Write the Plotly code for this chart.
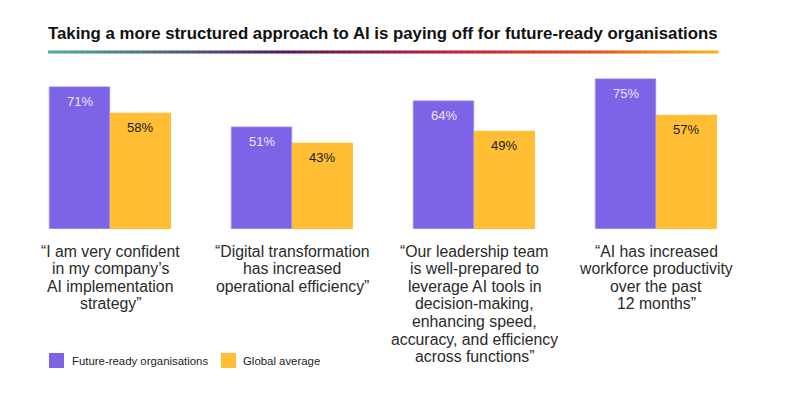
import plotly.graph_objects as go

categories = [
    ["“I am very confident", "in my company’s", "AI implementation", "strategy”"],
    ["“Digital transformation", "has increased", "operational efficiency”"],
    ["“Our leadership team", "is well-prepared to", "leverage AI tools in", "decision-making,",
     "enhancing speed,", "accuracy, and efficiency", "across functions”"],
    ["“AI has increased", "workforce productivity", "over the past", "12 months”"],
]
future_ready = [71, 51, 64, 75]
global_avg = [58, 43, 49, 57]
series_names = ["Future-ready organisations", "Global average"]
title_text = "Taking a more structured approach to AI is paying off for future-ready organisations"

PURPLE = "#7D64E7"
ORANGE = "#FFBE33"
FONT = "Liberation Sans, Arial, sans-serif"

W, H = 812, 395
L, R, T, B = 19, 65, 68, 166
plot_w = W - L - R
plot_h = H - T - B
base_px = H - B  # pixel y of plot bottom


def py(p):  # pixel y -> paper y
    return (base_px - p) / plot_h


def px(p):  # pixel x -> paper x
    return (p - L) / plot_w


fig = go.Figure()
fig.add_trace(go.Bar(x=list(range(4)), y=future_ready, name=series_names[0],
                     marker=dict(color=PURPLE, line=dict(color="#CFC6FF", width=0.8))))
fig.add_trace(go.Bar(x=list(range(4)), y=global_avg, name=series_names[1],
                     marker=dict(color=ORANGE, line=dict(width=0))))

bar_px = plot_w / 4 * (1 - 0.33) / 2
for i in range(4):
    fig.add_annotation(x=i, y=future_ready[i], xref="x", yref="y", text=f"{future_ready[i]}%",
                       showarrow=False, xshift=-bar_px / 2, yshift=-14.5, yanchor="middle",
                       font=dict(family=FONT, size=13, color="#EAE5FF"))
    fig.add_annotation(x=i, y=global_avg[i], xref="x", yref="y", text=f"{global_avg[i]}%",
                       showarrow=False, xshift=bar_px / 2, yshift=-14.5, yanchor="middle",
                       font=dict(family=FONT, size=13, color="#1A1A1A"))
    # category label, one line per annotation for tight line spacing
    for j, line in enumerate(categories[i]):
        fig.add_annotation(x=i, y=py(251 + 17.6 * j), xref="x", yref="paper", text=line,
                           showarrow=False, yanchor="middle", xanchor="center",
                           font=dict(family=FONT, size=15.8, color="#2A2A2A"))

# gradient underline
stops = [(0.0, (79, 170, 168)), (0.35, (80, 28, 92)), (0.6, (192, 32, 58)),
         (0.8, (226, 70, 28)), (1.0, (250, 180, 26))]


def col(t):
    for (t0, c0), (t1, c1) in zip(stops[:-1], stops[1:]):
        if t <= t1:
            f = (t - t0) / (t1 - t0) if t1 > t0 else 0
            return "rgb(%d,%d,%d)" % tuple(round(a + (b - a) * f) for a, b in zip(c0, c1))
    return "rgb(%d,%d,%d)" % stops[-1][1]


x0px, x1px, ypx = 48, 718, 52
n = 120
for k in range(n):
    a = x0px + (x1px - x0px) * k / n
    b = x0px + (x1px - x0px) * (k + 1) / n + 0.6
    fig.add_shape(type="rect", xref="paper", yref="paper",
                  x0=px(a), x1=px(b), y0=py(ypx + 1.5), y1=py(ypx - 1.5),
                  fillcolor=col(k / (n - 1)), line=dict(width=0), layer="above")

# legend (drawn manually)
legend_items = [(49, 70, PURPLE, series_names[0]), (221, 241, ORANGE, series_names[1])]
for sq_x, tx_x, c, name in legend_items:
    fig.add_shape(type="rect", xref="paper", yref="paper",
                  x0=px(sq_x), x1=px(sq_x + 15), y0=py(368), y1=py(353),
                  fillcolor=c, line=dict(width=0))
    fig.add_annotation(x=px(tx_x), y=py(360.5), xref="paper", yref="paper", text=name,
                       showarrow=False, xanchor="left", yanchor="middle",
                       font=dict(family=FONT, size=11.4, color="#222222"))

fig.update_layout(
    width=W, height=H,
    margin=dict(l=L, r=R, t=T, b=B),
    paper_bgcolor="white", plot_bgcolor="white",
    barmode="group", bargap=0.33, bargroupgap=0,
    showlegend=False,
    title=dict(text="<b>" + title_text + "</b>", x=48 / W, xanchor="left",
               y=1 - 33 / H, yanchor="middle", yref="container",
               font=dict(family=FONT, size=16.8, color="#111111")),
    xaxis=dict(range=[-0.5, 3.5], showgrid=False, zeroline=False, showline=False,
               showticklabels=False, ticks="", fixedrange=True),
    yaxis=dict(range=[0, plot_h / 2.006], visible=False, fixedrange=True),
)

fig.write_html("out.html", config={"displayModeBar": False},
               post_script="document.body.style.margin='0px';")
